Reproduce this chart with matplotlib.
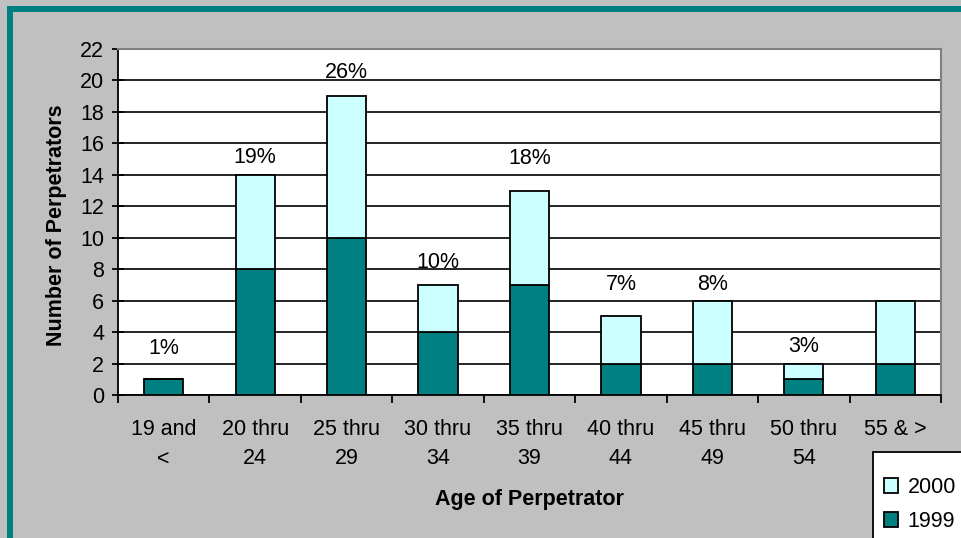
import numpy as np
import matplotlib.pyplot as plt
from matplotlib.patches import Rectangle

plt.rcParams['font.family'] = ['Liberation Sans', 'DejaVu Sans']

# data
age_groups = ['19 and\n<', '20 thru\n24', '25 thru\n29', '30 thru\n34', '35 thru\n39',
              '40 thru\n44', '45 thru\n49', '50 thru\n54', '55 & >']
y1999 = [1, 8, 10, 4, 7, 2, 2, 1, 2]
y2000 = [0, 6, 9, 3, 6, 3, 4, 1, 4]
pct_labels = ['1%', '19%', '26%', '10%', '18%', '7%', '8%', '3%', '']
pct_y = [2.95, 15.1, 20.5, 8.45, 15.05, 7.05, 7.05, 3.1, 0]

teal = '#008080'
light = '#CCFFFF'
fs = 15.5

fig = plt.figure(figsize=(9.61, 5.38), dpi=100)
fig.patch.set_facecolor('#C0C0C0')
# teal frame on top and left
fig.patches.append(Rectangle((7 / 961, 1 - 12 / 538), 1, 6 / 538, transform=fig.transFigure,
                             facecolor=teal, edgecolor='none'))
fig.patches.append(Rectangle((7 / 961, 0), 6 / 961, 1 - 6 / 538, transform=fig.transFigure,
                             facecolor=teal, edgecolor='none'))

ax = fig.add_axes([118 / 961, 1 - 395 / 538, (941 - 118) / 961, (395 - 49) / 538])
ax.set_facecolor('white')

x = np.arange(len(age_groups))
w = 0.43
ax.bar(x, y1999, w, color=teal, edgecolor='black', linewidth=1.3, label='1999', zorder=3)
ax.bar(x, y2000, w, bottom=y1999, color=light, edgecolor='black', linewidth=1.3,
       label='2000', zorder=3)

for i, t in enumerate(pct_labels):
    if t:
        ax.text(x[i], pct_y[i], t, ha='center', va='center', fontsize=fs, zorder=4)

ax.set_xlim(-0.5, len(age_groups) - 0.5)
ax.set_ylim(0, 22)
ax.set_yticks(np.arange(0, 23, 2))
ax.yaxis.grid(True, color='black', linewidth=1.2, zorder=1)
ax.set_axisbelow(True)

ax.set_xticks(np.arange(-0.5, len(age_groups), 1))
ax.set_xticklabels([])
ax.set_xticks(x, minor=True)
ax.set_xticklabels(age_groups, minor=True, fontsize=fs, linespacing=1.5)
ax.tick_params(axis='x', which='major', direction='out', length=6, width=1.3)
ax.tick_params(axis='x', which='minor', length=0, pad=17.5)
ax.tick_params(axis='y', direction='inout', length=8, width=1.3, labelsize=fs, pad=6)

for s in ['top', 'right']:
    ax.spines[s].set_color('#808080')
    ax.spines[s].set_linewidth(1.5)
for s in ['left', 'bottom']:
    ax.spines[s].set_linewidth(1.3)

ax.set_xlabel('Age of Perpetrator', fontsize=fs, fontweight='bold')
ax.xaxis.set_label_coords(0.5, -0.272)
ax.set_ylabel('Number of Perpetrators', fontsize=fs, fontweight='bold')
ax.yaxis.set_label_coords(-0.062, 0.49)

# legend box runs off the bottom-right corner of the picture
fig.patches.append(Rectangle((873 / 961, -0.1), 0.2, 0.1 + 1 - 452 / 538,
                             transform=fig.transFigure, facecolor='white',
                             edgecolor='black', linewidth=1.3, zorder=5))
h, l = ax.get_legend_handles_labels()
leg = fig.legend(h[::-1], l[::-1], loc='upper left', bbox_to_anchor=(884 / 961, 1 - 477 / 538),
                 fontsize=fs, frameon=False, borderaxespad=0, borderpad=0,
                 handlelength=0.65, handleheight=0.65, handletextpad=0.45,
                 labelspacing=0.6)
leg.set_zorder(6)

fig.savefig('out.png', dpi=100, facecolor=fig.get_facecolor())
